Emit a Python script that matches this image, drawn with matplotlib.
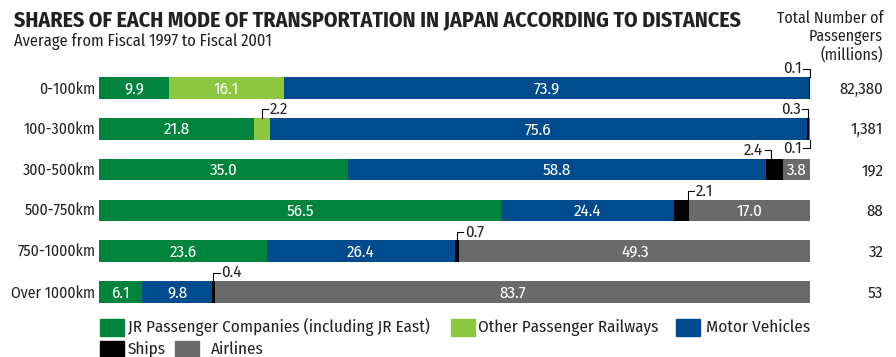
import matplotlib
matplotlib.use("Agg")
import matplotlib.pyplot as plt
from matplotlib.patches import Rectangle
import numpy as np

plt.rcParams['font.family'] = ['Fira Sans Condensed', 'DejaVu Sans']

## data ----------------------------------------------------------------
distances = ['0-100km', '100-300km', '300-500km', '500-750km', '750-1000km', 'Over 1000km']
modes = ['JR Passenger Companies (including JR East)', 'Other Passenger Railways',
         'Motor Vehicles', 'Ships', 'Airlines']
jr = [9.9, 21.8, 35.0, 56.5, 23.6, 6.1]
other_rail = [16.1, 2.2, 0.0, 0.0, 0.0, 0.0]
motor = [73.9, 75.6, 58.8, 24.4, 26.4, 9.8]
ships = [0.1, 0.3, 2.4, 2.1, 0.7, 0.4]
airlines = [0.0, 0.1, 3.8, 17.0, 49.3, 83.7]
totals = ['82,380', '1,381', '192', '88', '32', '53']

colors = ['#00843d', '#8dc63f', '#004b8d', '#000000', '#6a6a6a']

## small values shown with a bracket: (row, mode index, side, text side, pos in segment)
callouts = [(0, 3, 'top', 'left', 0.5),
            (1, 1, 'top', 'right', 0.5),
            (1, 3, 'top', 'left', 0.5),
            (1, 4, 'bottom', 'left', 0.5),
            (2, 3, 'top', 'left', 0.3),
            (3, 3, 'top', 'right', 0.9),
            (4, 3, 'top', 'right', 0.5),
            (5, 3, 'top', 'right', 0.5)]

W, H = 896, 357
fig = plt.figure(figsize=(W / 100, H / 100), dpi=100)
ax = fig.add_axes([99 / W, (H - 312.4) / H, 711 / W, 244.8 / H])

series = np.array([jr, other_rail, motor, ships, airlines])
y = np.arange(len(distances))
bar_h = 0.53
left = np.zeros(len(distances))
for i in range(len(modes)):
    ax.barh(y, series[i], left=left, height=bar_h, color=colors[i], label=modes[i])
    for r in range(len(distances)):
        v = series[i][r]
        if v >= 3:
            ax.text(left[r] + v / 2, y[r] + 0.02, f'{v:.1f}', color='white',
                    ha='center', va='center', fontsize=12.2)
    left = left + series[i]

starts = np.vstack([np.zeros(len(distances)), np.cumsum(series, axis=0)[:-1]])
for row, m, side, tside, frac in callouts:
    v = series[m][row]
    xl = starts[m][row] + v * frac
    if side == 'top':
        y0 = row - bar_h / 2
        y1 = y0 - 0.21
    else:
        y0 = row + bar_h / 2
        y1 = y0 + 0.21
    dx = -0.9 if tside == 'left' else 0.9
    ax.plot([xl, xl, xl + dx], [y0, y1, y1], color='black', lw=0.8,
            clip_on=False, solid_joinstyle='miter')
    ax.text(xl + dx * 1.2, y1, f'{v:.1f}', ha='right' if tside == 'left' else 'left',
            va='center', fontsize=12, color='#222222')

ax.set_xlim(0, 100)
ax.set_ylim(len(distances) - 0.5, -0.5)
ax.axis('off')

for r in range(len(distances)):
    ax.text(-0.5, y[r] + 0.02, distances[r], ha='right', va='center', fontsize=11.3, color='#222222')
    ax.text(110.3, y[r] + 0.02, totals[r], ha='right', va='center', fontsize=12, color='#222222')

## titles
fig.text(14 / W, 1 - 20 / H, 'SHARES OF EACH MODE OF TRANSPORTATION IN JAPAN ACCORDING TO DISTANCES',
         fontsize=15.7, fontweight='bold', va='center', ha='left', color='#222222')
fig.text(14 / W, 1 - 42 / H, 'Average from Fiscal 1997 to Fiscal 2001',
         fontsize=11.8, va='center', ha='left', color='#222222')
fig.text(883 / W, 1 - 18 / H, 'Total Number of', fontsize=11.5, ha='right', va='center', color='#222222')
fig.text(883 / W, 1 - 37 / H, 'Passengers', fontsize=11.5, ha='right', va='center', color='#222222')
fig.text(883 / W, 1 - 55 / H, '(millions)', fontsize=11.5, ha='right', va='center', color='#222222')

## legend
legend_pos = [(100, 327, 128), (451, 327, 478), (676, 327, 706), (100, 349, 128), (175, 349, 211)]
for i, (sx, sy, tx) in enumerate(legend_pos):
    fig.patches.append(Rectangle((sx / W, 1 - (sy + 9) / H), 24 / W, 17 / H,
                                 transform=fig.transFigure, color=colors[i]))
    fig.text(tx / W, 1 - sy / H, modes[i], fontsize=12.3, ha='left', va='center', color='#222222')

fig.savefig('out.png', dpi=100)
